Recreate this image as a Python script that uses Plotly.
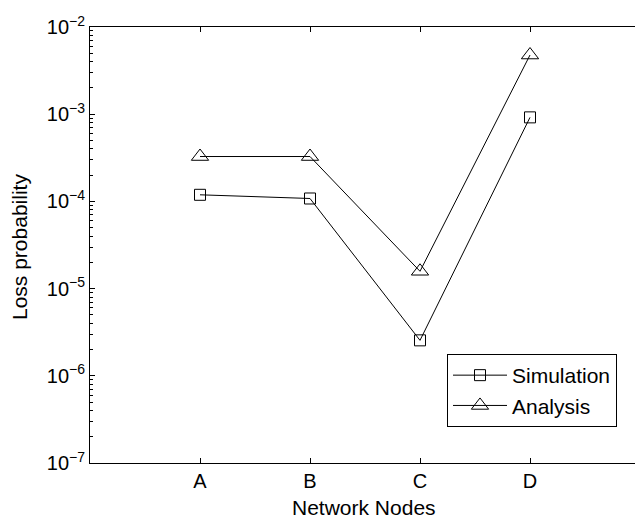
import plotly.graph_objects as go

nodes = ["A", "B", "C", "D"]
node_pos = [1, 2, 3, 4]
simulation = [1.19e-4, 1.08e-4, 2.55e-6, 9.2e-4]
analysis = [3.27e-4, 3.27e-4, 1.58e-5, 4.77e-3]
ytick_vals = [1e-7, 1e-6, 1e-5, 1e-4, 1e-3, 1e-2]
ytick_text = ["10<sup>−7</sup>", "10<sup>−6</sup>", "10<sup>−5</sup>",
              "10<sup>−4</sup>", "10<sup>−3</sup>", "10<sup>−2</sup>"]
minor_vals = [m * 10.0 ** e for e in range(-7, -2) for m in range(2, 10)]

font_family = "Liberation Sans, Arial, sans-serif"

fig = go.Figure()
fig.add_trace(go.Scatter(
    x=node_pos, y=simulation, name="Simulation", mode="lines+markers",
    line=dict(color="black", width=1),
    marker=dict(symbol="square-open", size=11, color="black", line=dict(width=1)),
))
fig.add_trace(go.Scatter(
    x=node_pos, y=analysis, name="Analysis", mode="lines+markers",
    line=dict(color="black", width=1),
    marker=dict(symbol="triangle-up-open", size=15, color="black", line=dict(width=1)),
))

fig.update_layout(
    width=640, height=519,
    margin=dict(l=90, r=0, t=27, b=56),
    paper_bgcolor="white", plot_bgcolor="white",
    font=dict(family=font_family, size=20, color="black"),
    showlegend=True,
    legend=dict(
        x=(447 - 90) / 550, y=0.250, xanchor="left", yanchor="top",
        bordercolor="black", borderwidth=1, bgcolor="white",
        font=dict(size=21), tracegroupgap=4, itemwidth=54,
    ),
    xaxis=dict(
        range=[0, 5], tickvals=node_pos, ticktext=nodes,
        showgrid=False, zeroline=False, automargin=False,
        showline=True, linecolor="black", linewidth=1, mirror="ticks",
        ticks="inside", ticklen=5, tickcolor="black",
        tickfont=dict(size=20),
    ),
    yaxis=dict(
        type="log", range=[-7, -2],
        tickvals=ytick_vals, ticktext=ytick_text,
        showgrid=False, zeroline=False, automargin=False,
        showline=True, linecolor="black", linewidth=1, mirror=False,
        ticks="inside", ticklen=5, tickcolor="black",
        minor=dict(tickvals=minor_vals, ticks="inside", ticklen=3,
                   tickcolor="black", showgrid=False),
        tickfont=dict(size=20),
    ),
    annotations=[
        dict(text="Network Nodes", xref="paper", yref="paper",
             x=(364 - 90) / 550, y=-(507 - 463) / 436,
             xanchor="center", yanchor="middle", showarrow=False,
             font=dict(size=21)),
        dict(text="Loss probability", xref="paper", yref="paper",
             x=-(90 - 19) / 550, y=(463 - 247) / 436, textangle=-90,
             xanchor="center", yanchor="middle", showarrow=False,
             font=dict(size=21)),
    ],
)

fig.write_html("out.html", config={"displayModeBar": False},
               post_script="document.body.style.margin='0px';document.body.style.overflow='hidden';")
